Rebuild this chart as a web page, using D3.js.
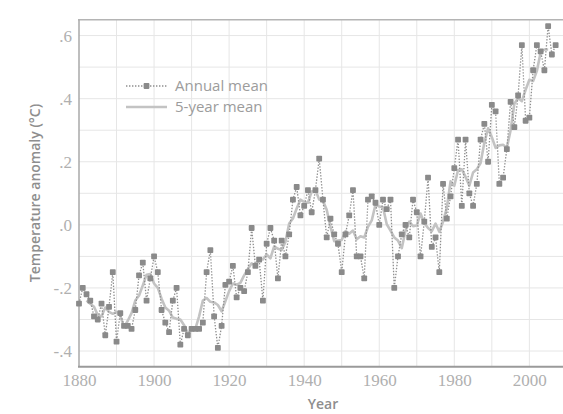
<!DOCTYPE html>
<html>
<head>
<meta charset="utf-8">
<script src="https://cdn.jsdelivr.net/npm/d3@7"></script>
<style>
  html, body { margin: 0; padding: 0; background: #ffffff; }
  svg { display: block; }
</style>
</head>
<body>
<svg id="chart" width="563" height="414"></svg>
<script>
// ---- data ----
const years = d3.range(1880, 2008); // 1880..2007 categories
const annualMean = [
  -0.25,-0.20,-0.22,-0.24,-0.29,-0.30,-0.25,-0.35,-0.26,-0.15,
  -0.37,-0.28,-0.32,-0.32,-0.33,-0.27,-0.16,-0.12,-0.24,-0.17,
  -0.10,-0.15,-0.27,-0.31,-0.34,-0.24,-0.20,-0.38,-0.33,-0.35,
  -0.33,-0.33,-0.33,-0.31,-0.15,-0.08,-0.29,-0.39,-0.32,-0.19,
  -0.18,-0.13,-0.23,-0.20,-0.21,-0.15,-0.01,-0.13,-0.11,-0.24,
  -0.06,-0.01,-0.05,-0.17,-0.05,-0.10,-0.03, 0.08, 0.12, 0.03,
   0.06, 0.11, 0.04, 0.11, 0.21, 0.08,-0.04, 0.02,-0.03,-0.06,
  -0.15,-0.03, 0.03, 0.11,-0.10,-0.10,-0.17, 0.08, 0.09, 0.07,
   0.00, 0.08, 0.05, 0.08,-0.20,-0.10,-0.03, 0.00,-0.04, 0.08,
   0.04,-0.10, 0.01, 0.15,-0.07,-0.04,-0.15, 0.13, 0.02, 0.09,
   0.18, 0.27, 0.06, 0.27, 0.10, 0.06, 0.13, 0.27, 0.32, 0.20,
   0.38, 0.36, 0.13, 0.15, 0.24, 0.39, 0.31, 0.41, 0.57, 0.33,
   0.34, 0.49, 0.57, 0.55, 0.49, 0.63, 0.54, 0.57
];
const fiveYearYears = d3.range(1882, 2006); // 1882..2005
const fiveYearMean = [
  -0.240,-0.250,-0.260,-0.286,-0.290,-0.262,-0.276,-0.282,
  -0.276,-0.288,-0.324,-0.304,-0.280,-0.240,-0.224,-0.192,-0.158,-0.156,
  -0.186,-0.200,-0.234,-0.262,-0.272,-0.294,-0.298,-0.300,-0.318,-0.344,
  -0.334,-0.330,-0.290,-0.240,-0.232,-0.244,-0.246,-0.254,-0.274,-0.242,
  -0.210,-0.186,-0.190,-0.184,-0.160,-0.140,-0.122,-0.128,-0.110,-0.110,
  -0.094,-0.106,-0.068,-0.076,-0.080,-0.054, 0.004, 0.020, 0.052, 0.080,
   0.072, 0.070, 0.106, 0.110, 0.080, 0.076, 0.048,-0.006,-0.052,-0.050,
  -0.048,-0.020,-0.028,-0.018,-0.046,-0.036,-0.040,-0.006, 0.014, 0.064,
   0.058, 0.056, 0.002,-0.018,-0.040,-0.050,-0.074,-0.018, 0.010,-0.004,
  -0.002, 0.036, 0.006,-0.010,-0.020, 0.004,-0.022, 0.010, 0.054, 0.138,
   0.124, 0.174, 0.176, 0.152, 0.124, 0.166, 0.176, 0.196, 0.260, 0.306,
   0.278, 0.244, 0.252, 0.254, 0.244, 0.300, 0.384, 0.402, 0.392, 0.428,
   0.460, 0.456, 0.488, 0.546, 0.556, 0.556
];
const xTickValues = [1880, 1900, 1920, 1940, 1960, 1980, 2000];
const yTickValues = [-0.4, -0.2, 0.0, 0.2, 0.4, 0.6];
const xGridValues = d3.range(1890, 2010, 10);
const yGridValues = [-0.4,-0.3,-0.2,-0.1,0.0,0.1,0.2,0.3,0.4,0.5,0.6];
const legendLabels = ["Annual mean", "5-year mean"];
const xTitle = "Year";
const yTitle = "Temperature anomaly (°C)";

// ---- layout ----
const svg = d3.select("#chart");
const x = d3.scaleLinear().domain([1880, 2010]).range([79, 566.9]);
const y = d3.scaleLinear().domain([-0.45, 0.65]).range([366.8, 19.8]);

const annual = years.map((yr, i) => ({ year: yr, value: annualMean[i] }));
const fiveYr = fiveYearYears.map((yr, i) => ({ year: yr, value: fiveYearMean[i] }));

// grid
const grid = svg.append("g");
grid.selectAll("line.v").data(xGridValues).join("line")
  .attr("x1", d => x(d)).attr("x2", d => x(d))
  .attr("y1", y(0.65)).attr("y2", y(-0.45))
  .attr("stroke", "#e6e6e6").attr("stroke-width", 1);
grid.selectAll("line.h").data(yGridValues).join("line")
  .attr("x1", x(1880)).attr("x2", 563)
  .attr("y1", d => y(d)).attr("y2", d => y(d))
  .attr("stroke", "#e6e6e6").attr("stroke-width", 1);

// frame lines
svg.append("line").attr("x1", x(1880) - 1).attr("x2", 563)
  .attr("y1", y(0.65)).attr("y2", y(0.65))
  .attr("stroke", "#b4b4b4").attr("stroke-width", 1.5);
svg.append("line").attr("x1", x(1880)).attr("x2", x(1880))
  .attr("y1", y(0.65)).attr("y2", y(-0.45))
  .attr("stroke", "#a8a8a8").attr("stroke-width", 1.5);
svg.append("line").attr("x1", x(1880) - 1).attr("x2", 563)
  .attr("y1", y(-0.45)).attr("y2", y(-0.45))
  .attr("stroke", "#9a9a9a").attr("stroke-width", 2);

// axes (labels only)
const fmtY = d => d === 0 ? ".0" : (d < 0 ? "-" : "") + "." + Math.round(Math.abs(d) * 10);
const xAxis = svg.append("g").attr("transform", `translate(0,${y(-0.45)})`)
  .call(d3.axisBottom(x).tickValues(xTickValues).tickFormat(d3.format("d")).tickSize(0).tickPadding(7));
const yAxis = svg.append("g").attr("transform", `translate(${x(1880)},0)`)
  .call(d3.axisLeft(y).tickValues(yTickValues).tickFormat(fmtY).tickSize(0).tickPadding(7));
[xAxis, yAxis].forEach(g => {
  g.select(".domain").remove();
  g.selectAll("text")
    .attr("font-family", "'Liberation Serif', 'DejaVu Serif', serif")
    .attr("font-size", 17)
    .attr("fill", "#b0b0b0");
});

// axis titles
svg.append("text").text(xTitle)
  .attr("x", 323).attr("y", 409)
  .attr("text-anchor", "middle")
  .attr("font-family", "'Open Sans', sans-serif").attr("font-weight", 600)
  .attr("font-size", 14).attr("fill", "#8e8e8e");
svg.append("text").text(yTitle)
  .attr("transform", "translate(40,193) rotate(-90)")
  .attr("text-anchor", "middle")
  .attr("font-family", "'Open Sans', sans-serif").attr("font-weight", 600)
  .attr("font-size", 14).attr("fill", "#8e8e8e");

// series
const line = d3.line().x(d => x(d.year)).y(d => y(d.value));
svg.append("path").datum(fiveYr).attr("d", line)
  .attr("fill", "none").attr("stroke", "#c3c3c3").attr("stroke-width", 2.6)
  .attr("stroke-linejoin", "round");
svg.append("path").datum(annual).attr("d", line)
  .attr("fill", "none").attr("stroke", "#8e8e8e").attr("stroke-width", 1.3)
  .attr("stroke-dasharray", "1.4,1.6");
const sq = 5.8;
svg.append("g").selectAll("rect").data(annual).join("rect")
  .attr("x", d => x(d.year) - sq / 2).attr("y", d => y(d.value) - sq / 2)
  .attr("width", sq).attr("height", sq).attr("rx", 0.8)
  .attr("fill", "#8a8a8a");

// legend
const lg = svg.append("g");
lg.append("line").attr("x1", 126).attr("x2", 167).attr("y1", 86).attr("y2", 86)
  .attr("stroke", "#8e8e8e").attr("stroke-width", 1.3).attr("stroke-dasharray", "1.4,1.6");
lg.append("rect").attr("x", 146.5 - sq / 2).attr("y", 86 - sq / 2)
  .attr("width", sq).attr("height", sq).attr("rx", 0.8).attr("fill", "#8a8a8a");
lg.append("line").attr("x1", 126).attr("x2", 167).attr("y1", 107).attr("y2", 107)
  .attr("stroke", "#c3c3c3").attr("stroke-width", 2.6);
lg.selectAll("text").data(legendLabels).join("text")
  .text(d => d)
  .attr("x", 175).attr("y", (d, i) => 91 + i * 21)
  .attr("font-family", "'Open Sans', sans-serif")
  .attr("font-size", 15).attr("fill", "#9c9c9c");
</script>
</body>
</html>
